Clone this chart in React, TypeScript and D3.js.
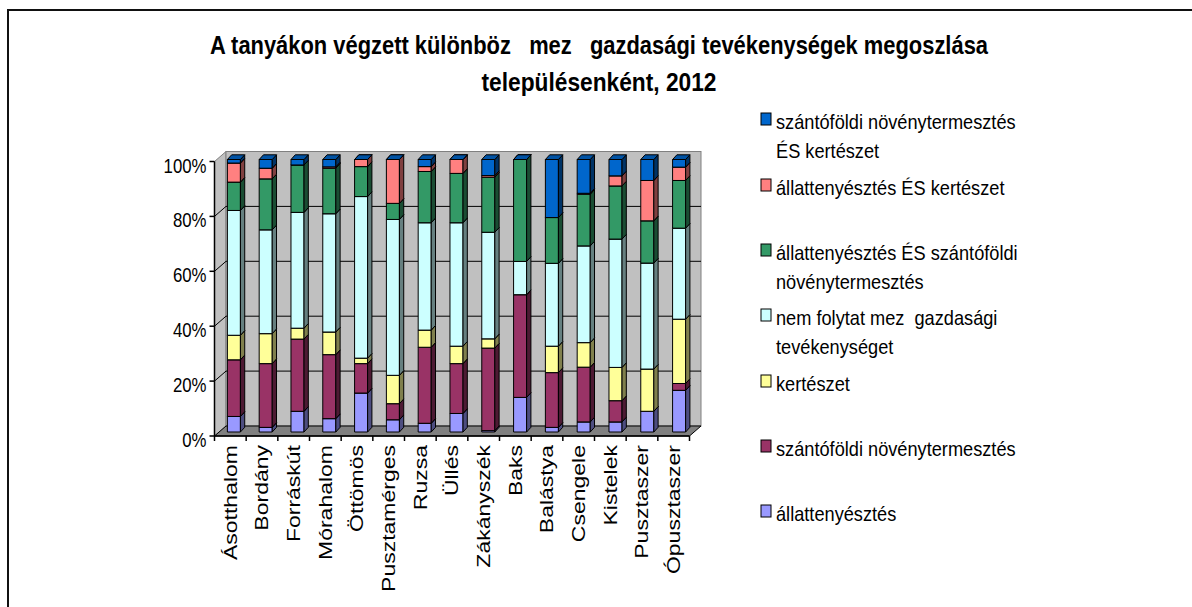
import React from "react";
import * as d3 from "d3";

const towns = [
  "Ásotthalom", "Bordány", "Forráskút", "Mórahalom", "Öttömös", "Pusztamérges", "Ruzsa", "Üllés",
  "Zákányszék", "Baks", "Balástya", "Csengele", "Kistelek", "Pusztaszer", "Ópusztaszer",
];

// percentages per settlement, bottom of the stack first
const allattenyesztes = [5.7, 1.7, 7.6, 4.9, 14.3, 4.5, 3.2, 6.8, 0.5, 12.7, 1.7, 3.7, 3.7, 7.6, 15.3];
const szantofoldi = [20.8, 23.4, 26.5, 23.5, 10.8, 5.9, 27.9, 18.3, 30.3, 37.7, 20.1, 20.1, 7.8, 0, 2.5];
const kerteszet = [9.0, 11.0, 4.0, 8.3, 2.0, 10.4, 6.3, 6.4, 3.4, 0, 9.7, 9.0, 12.2, 15.5, 23.6];
const nemFolytat = [45.8, 38.1, 42.5, 43.4, 59.3, 57.2, 39.4, 45.3, 39.1, 12.2, 30.4, 35.5, 47.1, 38.9, 33.4];
const allatSzanto = [10.4, 18.7, 17.4, 16.7, 11.0, 5.9, 18.8, 18.1, 20.2, 37.4, 16.8, 19.0, 19.5, 15.5, 17.5];
const allatKert = [7.0, 3.9, 0, 0.5, 2.6, 16.1, 1.8, 5.1, 0.6, 0, 0, 0.3, 3.7, 14.8, 4.9];
const szantoKert = [1.3, 3.2, 2.0, 2.7, 0, 0, 2.6, 0, 5.9, 0, 21.3, 12.4, 6.0, 7.7, 2.8];

const seriesKeys = ["allat", "szanto", "kert", "nem", "allatSzanto", "allatKert", "szantoKert"];
const seriesValues = [allattenyesztes, szantofoldi, kerteszet, nemFolytat, allatSzanto, allatKert, szantoKert];
const seriesColors = ["#9999FF", "#993366", "#FFFF99", "#CCFFFF", "#339966", "#FF8080", "#0066CC"];
const seriesLabels = [
  ["állattenyésztés"],
  ["szántóföldi növénytermesztés"],
  ["kertészet"],
  ["nem folytat mez  gazdasági", "tevékenységet"],
  ["állattenyésztés ÉS szántóföldi", "növénytermesztés"],
  ["állattenyésztés ÉS kertészet"],
  ["szántóföldi növénytermesztés", "ÉS kertészet"],
];
// first-line baselines of the legend entries, top entry (last series) first
const legendBaselines = [129, 195, 260, 325, 391, 456, 521];

const yTicks = [0, 20, 40, 60, 80, 100];
const titleLines = [
  "A tanyákon végzett különböz   mez   gazdasági tevékenységek megoszlása",
  "településenként, 2012",
];

const W = 1192;
const H = 607;
const FONT = "'Liberation Sans', Arial, sans-serif";

// back wall and its offset to the front plane
const back = { left: 226, right: 701, top: 151.5, bottom: 426 };
const depth = { x: -11.5, y: 10 };
const bar3d = { x: 4.3, y: -4.7 };

const shade = (c: string, k: number) => {
  const col = d3.rgb(c);
  return d3.rgb(col.r * k, col.g * k, col.b * k).formatHex();
};

export default function App() {
  const rows = towns.map((t, i) => {
    const r: any = { town: t };
    seriesKeys.forEach((k, j) => (r[k] = seriesValues[j][i]));
    return r;
  });
  const stacked = d3.stack().keys(seriesKeys)(rows);

  const yBack = d3.scaleLinear().domain([0, 100]).range([back.bottom, back.top]);
  const yFront = d3.scaleLinear().domain([0, 100]).range([back.bottom + depth.y, back.top + depth.y]);
  const yBar = d3.scaleLinear().domain([0, 100]).range([432, 159.5]);
  const xAxis = d3.scaleBand().domain(towns).range([back.left + depth.x, back.right + depth.x]);
  const xBar = d3
    .scaleBand()
    .domain(towns)
    .range([218, 695])
    .paddingInner(0.59)
    .paddingOuter(0.295);

  const fl = back.left + depth.x;
  const fr = back.right + depth.x;
  const fb = back.bottom + depth.y;
  const ft = back.top + depth.y;
  const bw = xBar.bandwidth();

  const bars: React.ReactNode[] = [];
  towns.forEach((t, i) => {
    const x0 = xBar(t)!;
    const x1 = x0 + bw;
    stacked.forEach((s, j) => {
      const y0 = yBar(s[i][0]);
      const y1 = yBar(s[i][1]);
      const c = seriesColors[j];
      bars.push(
        <g key={`${i}-${j}`} stroke="#000" strokeWidth={1} strokeLinejoin="round">
          <rect x={x0} y={y1} width={bw} height={y0 - y1} fill={c} />
          <polygon
            points={`${x1},${y1} ${x1 + bar3d.x},${y1 + bar3d.y} ${x1 + bar3d.x},${y0 + bar3d.y} ${x1},${y0}`}
            fill={shade(c, 0.5)}
          />
          <polygon
            points={`${x0},${y1} ${x0 + bar3d.x},${y1 + bar3d.y} ${x1 + bar3d.x},${y1 + bar3d.y} ${x1},${y1}`}
            fill={shade(c, 0.8)}
          />
        </g>
      );
    });
  });

  return (
    <svg width={W} height={H} style={{ position: "absolute", left: 0, top: 0, background: "#fff" }}>
      <rect x={8} y={10} width={W + 20} height={H + 20} fill="#fff" stroke="#111" strokeWidth={2} />

      {titleLines.map((l, i) => (
        <text
          key={l}
          x={599}
          y={i === 0 ? 54 : 91}
          textAnchor="middle"
          fontFamily={FONT}
          fontWeight="bold"
          fontSize={25}
          textLength={i === 0 ? 778 : 235}
          lengthAdjust="spacingAndGlyphs"
          style={{ whiteSpace: "pre" }}
        >
          {l}
        </text>
      ))}

      {/* walls */}
      <polygon
        points={`${fl},${ft} ${back.left},${back.top} ${back.left},${back.bottom} ${fl},${fb}`}
        fill="#C0C0C0"
        stroke="#808080"
      />
      <rect
        x={back.left}
        y={back.top}
        width={back.right - back.left}
        height={back.bottom - back.top}
        fill="#C0C0C0"
        stroke="#808080"
      />
      {yTicks.slice(1, -1).map((v) => (
        <g key={v} stroke="#000" strokeWidth={1}>
          <line x1={back.left} x2={back.right} y1={yBack(v)} y2={yBack(v)} />
          <line x1={fl} y1={yFront(v)} x2={back.left} y2={yBack(v)} />
        </g>
      ))}
      <polygon
        points={`${fl},${fb} ${back.left},${back.bottom} ${back.right},${back.bottom} ${fr},${fb}`}
        fill="#808080"
        stroke="#000"
        strokeWidth={1}
      />

      {/* axes */}
      <line x1={fl} x2={fl} y1={ft} y2={fb} stroke="#000" strokeWidth={1.5} />
      <line x1={fl} x2={fr} y1={fb} y2={fb} stroke="#000" strokeWidth={1.5} />
      {yTicks.map((v) => (
        <g key={v}>
          <line x1={fl - 5} x2={fl} y1={yFront(v)} y2={yFront(v)} stroke="#000" strokeWidth={1.5} />
          <text
            transform={`translate(${fl - 8},${yFront(v) + 11}) scale(0.8,1)`}
            textAnchor="end"
            fontFamily={FONT}
            fontSize={21}
            fill="#000"
          >
            {v}%
          </text>
        </g>
      ))}
      {towns.map((t) => (
        <line
          key={t}
          x1={xAxis(t)! + xAxis.bandwidth()}
          x2={xAxis(t)! + xAxis.bandwidth()}
          y1={fb}
          y2={fb + 5}
          stroke="#000"
          strokeWidth={1.5}
        />
      ))}
      <line x1={fl} x2={fl} y1={fb} y2={fb + 5} stroke="#000" strokeWidth={1.5} />
      {towns.map((t) => (
        <text
          key={t}
          transform={`translate(${xAxis(t)! + xAxis.bandwidth() / 2},445) scale(0.77,1) rotate(-90)`}
          dy="0.36em"
          textAnchor="end"
          fontFamily={FONT}
          fontSize={23}
          fill="#000"
        >
          {t}
        </text>
      ))}

      {bars}

      {/* legend, last series on top */}
      {seriesLabels
        .map((lines, j) => ({ lines, j }))
        .reverse()
        .map(({ lines, j }, k) => {
          const b = legendBaselines[k];
          return (
            <g key={j}>
              <rect x={761} y={b - 16} width={10} height={12} fill={seriesColors[j]} stroke="#000" strokeWidth={1} />
              {lines.map((l, li) => (
                <text
                  key={li}
                  transform={`translate(776,${b + li * 29}) scale(0.91,1)`}
                  fontFamily={FONT}
                  fontSize={20}
                  fill="#000"
                  style={{ whiteSpace: "pre" }}
                >
                  {l}
                </text>
              ))}
            </g>
          );
        })}
    </svg>
  );
}
